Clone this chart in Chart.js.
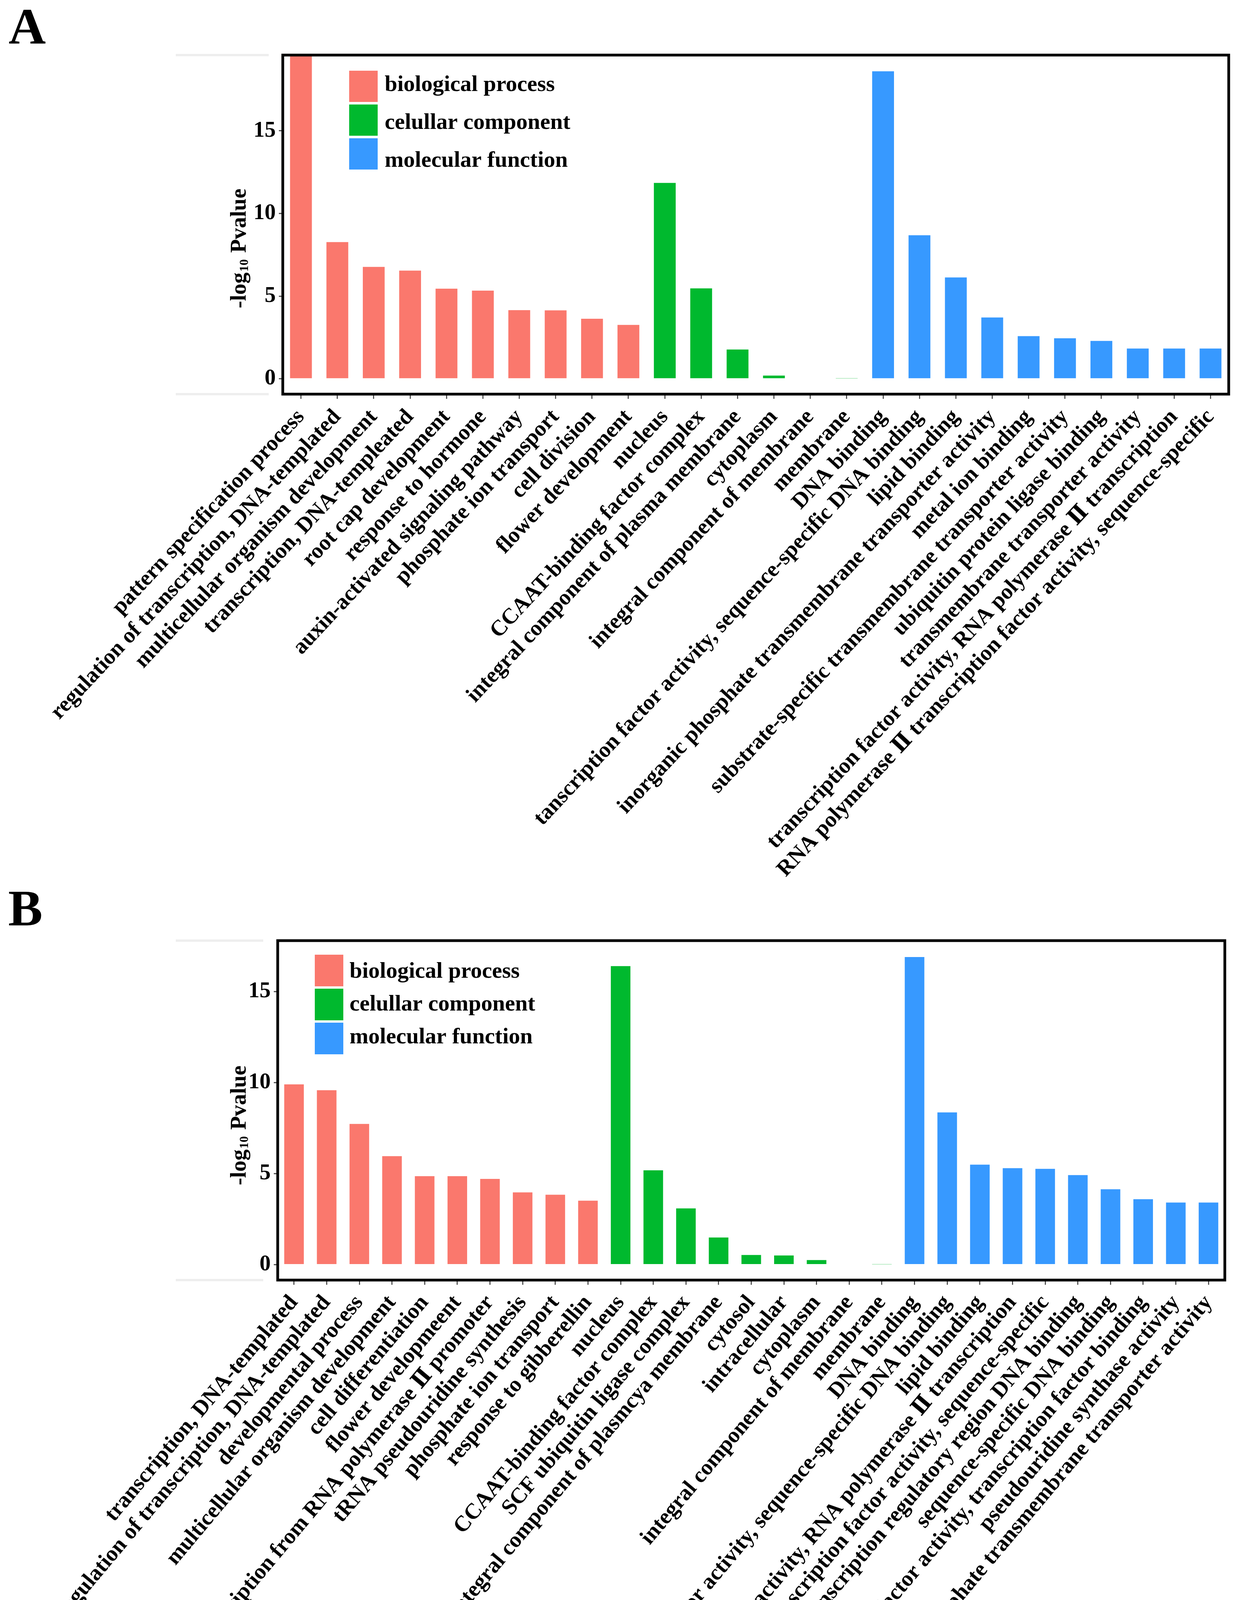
<!DOCTYPE html>
<html>
<head>
<meta charset="utf-8">
<script src="https://cdn.jsdelivr.net/npm/chart.js@4.4.1/dist/chart.umd.min.js"></script>
<style>
html,body{margin:0;padding:0;background:#fff;}
body{width:3180px;height:4544px;position:relative;overflow:hidden;}
canvas{position:absolute;left:0;}
.panel{position:absolute;font-family:'Liberation Serif','Times New Roman',serif;font-weight:bold;font-size:132px;line-height:1;color:#000;}
</style>
</head>
<body>
<div class="panel" style="left:22px;top:2px;">A</div>
<div class="panel" style="left:21px;top:2259px;">B</div>
<canvas id="cA" width="3180" height="2265" style="top:0px;"></canvas>
<canvas id="cB" width="3180" height="2274" style="top:2270px;"></canvas>
<script>
// ---------- data ----------
const legendLabels = ['biological process', 'celullar component', 'molecular function'];
const groupColors = ['#FA786D', '#00B92E', '#3799FF'];

const labelsA = [
  'pattern specification process',
  'regulation of transcription, DNA-templated',
  'multicellular organism development',
  'transcription, DNA-templeated',
  'root cap development',
  'response to hormone',
  'auxin-activated signaling pathway',
  'phosphate ion transport',
  'cell division',
  'flower development',
  'nucleus',
  'CCAAT-binding factor complex',
  'integral component of plasma membrane',
  'cytoplasm',
  'integral component of membrane',
  'membrane',
  'DNA binding',
  'tanscription factor activity, sequence-specific DNA binding',
  'lipid binding',
  'inorganic phosphate transmembrane transporter activity',
  'metal ion binding',
  'substrate-specific transmembrane transporter activity',
  'ubiquitin protein ligase binding',
  'transmembrane transporter activity',
  'transcription factor activity, RNA polymerase \u2161 transcription',
  'RNA polymerase \u2161 transcription factor activity, sequence-specific'
];
const valuesA = [22.5, 8.27, 6.77, 6.54, 5.45, 5.33, 4.15, 4.14, 3.63, 3.26,
                 11.85, 5.47, 1.77, 0.19, 0.03, 0.02,
                 18.6, 8.68, 6.13, 3.71, 2.58, 2.45, 2.29, 1.83, 1.83, 1.83];
const groupsA = [0,0,0,0,0,0,0,0,0,0, 1,1,1,1,1,1, 2,2,2,2,2,2,2,2,2,2];
const yTicksA = [0, 5, 10, 15];
const yRangeA = [-0.93, 19.58];

const labelsB = [
  'transcription, DNA-templated',
  'regulation of transcription, DNA-templated',
  'developmental process',
  'multicellular organism development',
  'cell differentiation',
  'flower developmeent',
  'regulation of transcription from RNA polymerase \u2161 promoter',
  'tRNA pseudouridine synthesis',
  'phosphate ion transport',
  'response to gibberellin',
  'nucleus',
  'CCAAT-binding factor complex',
  'SCF ubiquitin ligase complex',
  'integral component of plasmcya membrane',
  'cytosol',
  'intracellular',
  'cytoplasm',
  'integral component of membrane',
  'membrane',
  'DNA binding',
  'transcription factor activity, sequence-specific DNA binding',
  'lipid binding',
  'transcription factor activity, RNA polymerase \u2161 transcription',
  'RNA polymerase \u2161 transcription factor activity, sequence-specific',
  'transcription regulatory region DNA binding',
  'sequence-specific DNA binding',
  'transcription factor activity, transcription factor binding',
  'pseudouridine synthase activity',
  'inorganic phosphate transmembrane transporter activity'
];
const valuesB = [9.9, 9.58, 7.73, 5.96, 4.86, 4.86, 4.71, 3.97, 3.84, 3.51,
                 16.4, 5.18, 3.09, 1.49, 0.53, 0.5, 0.25, 0.03, 0.02,
                 16.9, 8.36, 5.49, 5.3, 5.26, 4.92, 4.14, 3.59, 3.41, 3.41];
const groupsB = [0,0,0,0,0,0,0,0,0,0, 1,1,1,1,1,1,1,1,1, 2,2,2,2,2,2,2,2,2,2];
const yTicksB = [0, 5, 10, 15];
const yRangeB = [-0.85, 17.8];

const yTitleMain = '-log', yTitleSub = '10', yTitleRest = ' Pvalue';

// ---------- drawing ----------
const FONT = "'Liberation Serif', 'DejaVu Serif', 'Noto Sans CJK SC', serif";
const FS = 57;
const FS_LEG = 58;

const decor = {
  id: 'decor',
  beforeDraw(chart, args, o) {
    const ctx = chart.ctx, a = chart.chartArea;
    ctx.save();
    ctx.strokeStyle = '#eeeeee';
    ctx.lineWidth = 6;
    ctx.beginPath();
    ctx.moveTo(o.fadeX0, a.top); ctx.lineTo(o.fadeX1, a.top);
    ctx.moveTo(o.fadeX0, a.bottom); ctx.lineTo(o.fadeX1, a.bottom);
    ctx.stroke();
    ctx.restore();
  },
  afterDatasetsDraw(chart, args, o) {
    const ctx = chart.ctx, a = chart.chartArea;
    ctx.save();
    // panel box
    ctx.strokeStyle = '#000';
    ctx.lineWidth = 7;
    ctx.strokeRect(a.left, a.top, a.right - a.left, a.bottom - a.top);
    // legend
    ctx.font = 'bold ' + FS_LEG + 'px ' + FONT;
    ctx.textAlign = 'left';
    ctx.textBaseline = 'alphabetic';
    legendLabels.forEach((t, i) => {
      ctx.fillStyle = groupColors[i];
      ctx.fillRect(o.keyX, o.keyTop + i * o.keyStep, o.keyW, o.keyH);
      ctx.fillStyle = '#000';
      ctx.fillText(t, o.textX, o.textBase + i * o.textStep);
    });
    // y-axis title with subscript
    ctx.translate(o.titleX, o.titleY);
    ctx.rotate(-Math.PI / 2);
    const fb = 'bold ' + FS + 'px ' + FONT, fsub = 'bold 32px ' + FONT;
    ctx.font = fb;
    const w1 = ctx.measureText(yTitleMain).width;
    const w3 = ctx.measureText(yTitleRest).width;
    ctx.font = fsub;
    const w2 = ctx.measureText(yTitleSub).width;
    let x = -(w1 + w2 + w3) / 2;
    const base = 21;
    ctx.fillStyle = '#000';
    ctx.font = fb; ctx.fillText(yTitleMain, x, base); x += w1;
    ctx.font = fsub; ctx.fillText(yTitleSub, x + 2, base + 6); x += w2 + 4;
    ctx.font = fb; ctx.fillText(yTitleRest, x, base);
    ctx.restore();
  }
};

function build(id, labels, values, groups, yRange, yTicks, g) {
  const canvasH = document.getElementById(id).height;
  return new Chart(document.getElementById(id), {
    type: 'bar',
    data: {
      labels: labels,
      datasets: [{
        data: values,
        backgroundColor: groups.map(k => groupColors[k]),
        borderWidth: 0,
        barPercentage: 0.6,
        categoryPercentage: 1.0
      }]
    },
    options: {
      responsive: false,
      animation: false,
      devicePixelRatio: 1,
      layout: { padding: { top: g.top, right: 3180 - g.right, left: 0, bottom: 0 } },
      plugins: {
        legend: { display: false },
        tooltip: { enabled: false },
        decor: g
      },
      scales: {
        x: {
          type: 'category',
          offset: true,
          afterFit: s => { s.height = canvasH - g.bottom; s.paddingLeft = 0; s.paddingRight = 0; },
          grid: { display: true, drawOnChartArea: false, drawTicks: true, tickLength: 12, color: '#555', lineWidth: 3, offset: false },
          border: { display: false },
          ticks: {
            autoSkip: false, maxRotation: g.rot, minRotation: g.rot,
            padding: g.xPad, color: '#000',
            font: { family: FONT, weight: 'bold', size: FS }
          }
        },
        y: {
          min: yRange[0], max: yRange[1],
          afterBuildTicks: s => { s.ticks = yTicks.map(v => ({ value: v })); },
          afterFit: s => { s.width = g.left; },
          grid: { display: true, drawOnChartArea: false, drawTicks: true, tickLength: 10, color: '#555', lineWidth: 3 },
          border: { display: false },
          ticks: {
            padding: 8, color: '#000',
            font: { family: FONT, weight: 'bold', size: FS }
          }
        }
      }
    },
    plugins: [decor]
  });
}

build('cA', labelsA, valuesA, groupsA, yRangeA, yTicksA, {
  left: 724, right: 3146, top: 141, bottom: 1009, rot: 47, xPad: 14,
  fadeX0: 450, fadeX1: 688,
  keyX: 894, keyTop: 181, keyStep: 86.5, keyW: 73, keyH: 80,
  textX: 985, textBase: 233, textStep: 97,
  titleX: 608, titleY: 638
});
build('cB', labelsB, valuesB, groupsB, yRangeB, yTicksB, {
  left: 711, right: 3136, top: 138, bottom: 1007, rot: 50, xPad: 14,
  fadeX0: 450, fadeX1: 674,
  keyX: 806, keyTop: 174, keyStep: 87, keyW: 73, keyH: 81,
  textX: 895, textBase: 233, textStep: 84,
  titleX: 608, titleY: 613
});
</script>
</body>
</html>
